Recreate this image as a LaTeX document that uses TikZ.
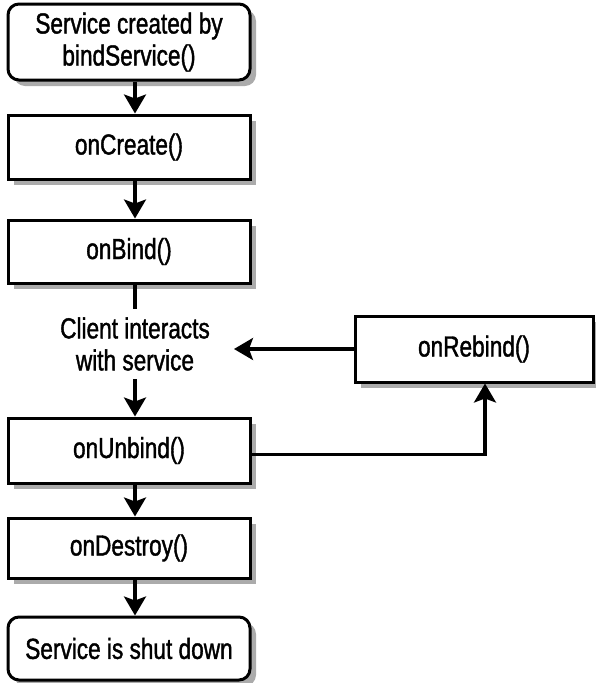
\documentclass[tikz,border=0pt]{standalone}
\usepackage{fontspec}
\setmainfont{Liberation Sans}[FakeStretch=0.78,FakeBold=1.3]
\usetikzlibrary{arrows.meta,shadows}
\tikzset{
  box/.style={draw=black, line width=3pt, fill=white, minimum width=242pt, inner sep=0pt, align=center,
    font=\fontsize{29}{32}\selectfont,
    drop shadow={shadow xshift=6pt, shadow yshift=-6pt, fill=black!33, opacity=1}},
  rbox/.style={box, rounded corners=11pt},
  conn/.style={line width=3.2pt, draw=black},
  arr/.style={conn, -{Stealth[length=19pt,width=22pt,inset=4pt]}}
}
\begin{document}
\begin{tikzpicture}[x=1pt,y=-1pt]
\useasboundingbox (0,0) rectangle (595,683);
\node[rbox, minimum height=76pt] (start) at (129,42) {Service created by\\bindService()};
\node[box, minimum height=64pt] (create) at (129,147) {onCreate()};
\node[box, minimum height=63pt] (bind) at (129,251.5) {onBind()};
\node[align=center, font=\fontsize{29}{32}\selectfont, minimum height=70pt, inner sep=0pt] (client) at (135,344) {Client interacts\\with service};
\node[box, minimum height=65pt] (unbind) at (129,450.5) {onUnbind()};
\node[box, minimum height=60pt] (destroy) at (129,548) {onDestroy()};
\node[rbox, minimum height=63pt] (end) at (129,648.5) {Service is shut down};
\node[box, minimum width=238pt, minimum height=66pt] (rebind) at (474,349) {onRebind()};
\coordinate (tip) at (234,349);
\draw[arr] ([xshift=6pt]start.south) -- ([xshift=6pt]create.north);
\draw[arr] ([xshift=6pt]create.south) -- ([xshift=6pt]bind.north);
\draw[conn] ([xshift=6pt]bind.south) -- (client.north);
\draw[arr] (client.south) -- ([xshift=6pt]unbind.north);
\draw[arr] ([xshift=6pt]unbind.south) -- ([xshift=6pt]destroy.north);
\draw[arr] ([xshift=6pt]destroy.south) -- ([xshift=6pt]end.north);
\draw[arr] (rebind.west) -- (tip);
\draw[arr] ([yshift=-4pt]unbind.east) -| ([xshift=11pt]rebind.south);
\end{tikzpicture}
\end{document}
